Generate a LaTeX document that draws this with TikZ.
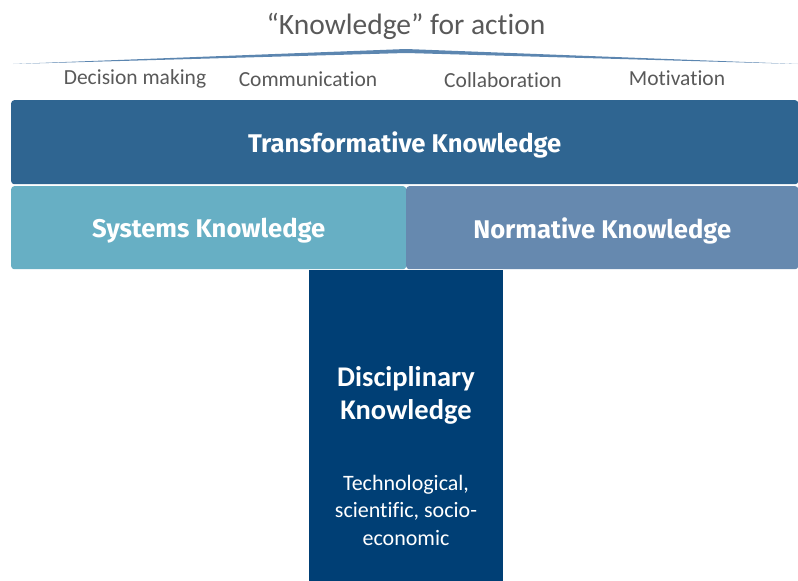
\documentclass[tikz,border=0pt]{standalone}
\usepackage{fontspec}
\setmainfont{Carlito}[Ligatures=NoCommon]
\newfontfamily\kopffont{Fira Sans}
\usepackage{tikz}
\usetikzlibrary{positioning}
\definecolor{dach}{HTML}{5C86B0}
\definecolor{grautext}{HTML}{595959}
\definecolor{transform}{HTML}{2F6591}
\definecolor{system}{HTML}{67AFC4}
\definecolor{norm}{HTML}{6689AF}
\definecolor{diszi}{HTML}{003F75}

\begin{document}
\begin{tikzpicture}[x=1pt, y=-1pt,
    block/.style={rectangle, rounded corners=3pt, anchor=north west, inner sep=0pt, text depth=0pt,
                  text=white, font=\kopffont\bfseries\fontsize{25.6}{30}\selectfont},
    zweck/.style={text=grautext, font=\fontsize{21.5}{24}\selectfont}]
      \useasboundingbox (0,0) rectangle (798,581);

      % --- Titel und Dach ---
      \node[text=grautext, font=\fontsize{29.5}{32}\selectfont] (titel) at (406,26) {``Knowledge'' for action};
      \fill[dach] (13,64) -- (406,49) -- (798,64) -- (406,53) -- cycle;

      % Zwecke unter dem Dach
      \node[zweck] (entscheid) at (135,79) {Decision making};
      \node[zweck] (kommu) at (308,79) {Communication};
      \node[zweck] (kollab) at (503,80) {Collaboration};
      \node[zweck] (motiv) at (677,78) {Motivation};

      % --- Bloecke ---
      \node[block, fill=transform, minimum width=787pt, minimum height=84pt] (trans) at (11,100) {Transformative Knowledge};
      \node[block, fill=system, minimum width=395pt, minimum height=83pt] (sys) at (11,186) {Systems Knowledge};
      \node[block, fill=norm, minimum width=392pt, minimum height=83pt] (norm) at (406,186) {Normative Knowledge};

      % Saeule
      \fill[diszi] (309,270) rectangle (503,581);
      \node[text=white, align=center, font=\bfseries\fontsize{28.5}{33}\selectfont] (diszi) at (406,395) {Disciplinary\\Knowledge};
      \node[text=white, align=center, font=\fontsize{22}{27.5}\selectfont] (felder) at (406,510) {Technological,\\scientific, socio-\\economic};
    \end{tikzpicture}
\end{document}
